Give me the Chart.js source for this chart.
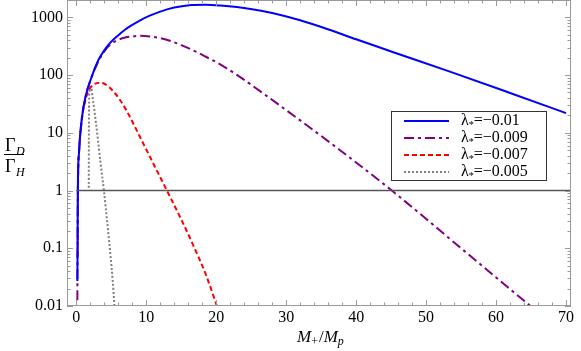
<!DOCTYPE html>
<html><head><meta charset="utf-8">
<script src="https://cdn.jsdelivr.net/npm/chart.js@4/dist/chart.umd.min.js"></script>
<style>html,body{margin:0;padding:0;background:#fff}#wrap{width:581px;height:351px;position:relative}</style>
</head><body><div id="wrap"><canvas id="c"></canvas></div>
<script>
// ---- data ----
const xBlue = [0.15, 0.18, 0.22, 0.38, 0.76, 1.33, 2.05, 2.52, 3.0, 3.43, 4.3, 5.0, 5.8, 7, 8, 9.14, 10.5, 12, 14, 16.5, 18.5, 20.6, 24.9, 28, 32, 36.3, 40, 45, 53.4, 62, 70];
const yBlue = [0.027, 0.1, 1, 4.47, 16.6, 42.7, 83, 120, 166, 209, 302, 380, 468, 617, 741, 891, 1072, 1259, 1479, 1641, 1660, 1603, 1400, 1189, 891, 603, 417, 257, 115, 49, 21.9];

const xPurple = [0.15, 0.18, 0.22, 0.38, 0.76, 1.33, 2.05, 2.52, 3.0, 3.43, 4.3, 5.0, 5.8, 7, 8, 9.14, 10.5, 12, 13.5, 15, 16.5, 18, 20.5, 23, 27.2, 37.7, 45.1, 55, 64.9];
const yPurple = [0.0126, 0.1, 1, 4.47, 16.6, 42.7, 83, 118, 158, 200, 288, 347, 398, 447, 468, 479, 468, 437, 389, 331, 275, 224, 155, 100, 43.7, 5.0, 1.0, 0.1, 0.01];

const xRed = [0.2, 0.24, 0.38, 0.76, 1.33, 1.8, 2.5, 3.4, 4.0, 4.7, 5.5, 6.3, 7.2, 8.2, 9.14, 11, 12.95, 15, 16.8, 18.5, 20.1];
const yRed = [0.072, 1, 4.47, 15.8, 38, 55, 69, 74, 70.8, 61.7, 49, 36.3, 24, 14.1, 8.3, 2.95, 1, 0.316, 0.107, 0.0355, 0.01];

const xGray = [1.78, 1.8, 1.85, 2.05, 2.4, 2.76, 3.1, 3.47, 3.95, 4.43, 4.9, 5.2, 5.45];
const yGray = [1.12, 10, 50, 63, 35.5, 16.6, 7.4, 2.95, 1, 0.275, 0.072, 0.028, 0.01];

const xRef = [0, 71];
const yRef = [1, 1];

const seriesLambda = ['\u22120.01', '\u22120.009', '\u22120.007', '\u22120.005'];
const xTicks = [0, 10, 20, 30, 40, 50, 60, 70];
const yTicks = [0.01, 0.1, 1, 10, 100, 1000];
const yTickLabels = ['0.01', '0.1', '1', '10', '100', '1000'];

const SERIF = "'Liberation Serif', 'Times New Roman', serif";
const pts = (xs, ys) => xs.map((x, i) => ({x: x, y: ys[i]}));

const series = [
  {data: pts(xBlue, yBlue), color: '#0000ff', dash: []},
  {data: pts(xPurple, yPurple), color: '#800080', dash: [10, 4, 3, 4]},
  {data: pts(xRed, yRed), color: '#ff0000', dash: [5, 3]},
  {data: pts(xGray, yGray), color: '#808080', dash: [2, 2]}
];

const datasets = [{
  label: 'ref', data: pts(xRef, yRef), borderColor: '#555555', borderWidth: 1.4,
  pointRadius: 0
}].concat(series.map((s, i) => ({
  label: seriesLambda[i], data: s.data, borderColor: s.color, borderDash: s.dash,
  borderWidth: 2, pointRadius: 0, cubicInterpolationMode: 'monotone', fill: false
})));

const framePlugin = {
  id: 'frame',
  afterDatasetsDraw(chart) {
    const {ctx, chartArea: a, scales: {x, y}} = chart;
    ctx.save();
    ctx.strokeStyle = '#9a9a9a';
    ctx.lineWidth = 1;
    ctx.strokeRect(a.left + 0.5, a.top + 0.5, a.right - a.left - 1, a.bottom - a.top - 1);
    ctx.beginPath();
    for (let v = 0; v <= x.max; v += 2) {
      const px = Math.round(x.getPixelForValue(v)) + 0.5;
      const len = (v % 10 === 0) ? 6 : 3.5;
      ctx.moveTo(px, a.bottom); ctx.lineTo(px, a.bottom - len);
      ctx.moveTo(px, a.top); ctx.lineTo(px, a.top + len);
    }
    for (let e = -2; e <= 3; e++) {
      for (let m = 1; m <= 9; m++) {
        const v = m * Math.pow(10, e);
        if (v < y.min || v > y.max) continue;
        const py = Math.round(y.getPixelForValue(v)) + 0.5;
        const len = (m === 1) ? 6 : 3.5;
        ctx.moveTo(a.left, py); ctx.lineTo(a.left + len, py);
        ctx.moveTo(a.right, py); ctx.lineTo(a.right - len, py);
      }
    }
    ctx.stroke();
    ctx.restore();
  },
  afterDraw(chart) {
    const {ctx} = chart;
    ctx.save();
    ctx.fillStyle = '#000';
    ctx.font = '18px ' + SERIF;
    ctx.textBaseline = 'alphabetic';
    ctx.fillText('\u0393', 5, 151);
    ctx.fillText('\u0393', 5, 172);
    ctx.font = 'italic 12px ' + SERIF;
    ctx.fillText('D', 16, 155);
    ctx.fillText('H', 16, 176);
    ctx.fillRect(4, 154, 20, 1);
    const xc = 297;
    ctx.font = 'italic 17px ' + SERIF;
    let cx = xc;
    ctx.fillText('M', cx, 342); cx += ctx.measureText('M').width;
    ctx.font = '12px ' + SERIF;
    ctx.fillText('+', cx, 345); cx += ctx.measureText('+').width + 1;
    ctx.font = '17px ' + SERIF;
    ctx.fillText('/', cx, 342); cx += ctx.measureText('/').width;
    ctx.font = 'italic 17px ' + SERIF;
    ctx.fillText('M', cx, 342); cx += ctx.measureText('M').width;
    ctx.font = 'italic 12px ' + SERIF;
    ctx.fillText('p', cx, 345);
    const lx = 391.5, ly = 111.5, lw = 155, lh = 69;
    ctx.fillStyle = '#fff';
    ctx.fillRect(lx, ly, lw, lh);
    ctx.strokeStyle = '#333';
    ctx.lineWidth = 1;
    ctx.strokeRect(lx, ly, lw, lh);
    const rowY = [121, 138, 155, 172];
    series.forEach((s, i) => {
      const yy = rowY[i];
      ctx.save();
      ctx.strokeStyle = s.color;
      ctx.lineWidth = 2;
      ctx.setLineDash(s.dash);
      ctx.beginPath(); ctx.moveTo(404, yy); ctx.lineTo(449, yy); ctx.stroke();
      ctx.restore();
      ctx.fillStyle = '#000';
      let tx = 461;
      ctx.font = '16px ' + SERIF;
      ctx.textBaseline = 'middle';
      ctx.fillText('\u03bb', tx, yy); tx += ctx.measureText('\u03bb').width;
      ctx.font = '10px ' + SERIF;
      ctx.fillText('*', tx, yy + 4); tx += ctx.measureText('*').width;
      ctx.font = '16px ' + SERIF;
      ctx.fillText('=' + seriesLambda[i], tx, yy);
    });
    ctx.restore();
  }
};

new Chart(document.getElementById('c'), {
  type: 'line',
  data: {datasets: datasets},
  options: {
    responsive: true, maintainAspectRatio: false, animation: false, devicePixelRatio: 1,
    layout: {padding: {left: 0, right: 10, top: 0, bottom: 0}},
    plugins: {legend: {display: false}, tooltip: {enabled: false}},
    scales: {
      x: {
        type: 'linear', min: -1.33, max: 70.71,
        grid: {display: false, drawTicks: false},
        border: {display: false},
        afterBuildTicks: s => { s.ticks = xTicks.map(v => ({value: v})); },
        afterFit: s => { s.height = 45; s.paddingLeft = 0; s.paddingRight = 0; },
        ticks: {font: {family: SERIF, size: 16}, color: '#000', padding: 2, maxRotation: 0, autoSkip: false,
                callback: v => String(v)}
      },
      y: {
        type: 'logarithmic', min: 0.01, max: 2000,
        grid: {display: false, drawTicks: false},
        border: {display: false},
        afterBuildTicks: s => { s.ticks = yTicks.map(v => ({value: v})); },
        afterFit: s => { s.width = 67; s.paddingTop = 0; s.paddingBottom = 0; },
        ticks: {font: {family: SERIF, size: 16}, color: '#000', padding: 4, autoSkip: false,
                callback: v => { const i = yTicks.findIndex(t => Math.abs(t - v) / t < 1e-6); return i >= 0 ? yTickLabels[i] : ''; }}
      }
    }
  },
  plugins: [framePlugin]
});
</script></body></html>
